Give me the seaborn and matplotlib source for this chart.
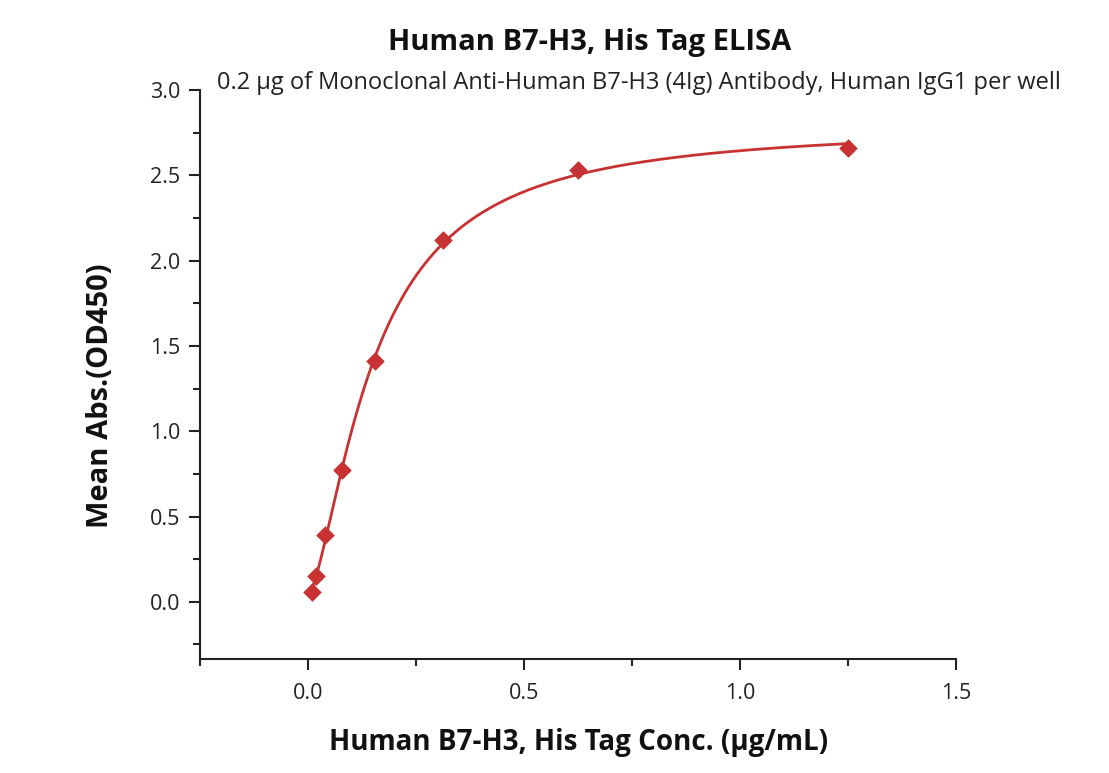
import numpy as np
import pandas as pd
import matplotlib
matplotlib.use("Agg")
import matplotlib.pyplot as plt
import seaborn as sns
from matplotlib.ticker import MultipleLocator

# Data
conc = [0.0098, 0.0195, 0.039, 0.078, 0.156, 0.3125, 0.625, 1.25]
od450 = [0.06, 0.15, 0.39, 0.77, 1.41, 2.12, 2.53, 2.66]
title = "Human B7-H3, His Tag ELISA"
subtitle = "0.2 μg of Monoclonal Anti-Human B7-H3 (4Ig) Antibody, Human IgG1 per well"
xlabel = "Human B7-H3, His Tag Conc. (μg/mL)"
ylabel = "Mean Abs.(OD450)"
xticks = [0.0, 0.5, 1.0, 1.5]
yticks = [0.0, 0.5, 1.0, 1.5, 2.0, 2.5, 3.0]

red = "#C83232"

# 4-parameter logistic fit (Levenberg-Marquardt in numpy)
x = np.array(conc)
y = np.array(od450)

def f4(p, xx):
    a, b, c, d = p
    return d + (a - d) / (1.0 + (xx / c) ** b)

p = np.array([0.0, 1.5, 0.15, 2.8])
lam = 1e-2
for _ in range(500):
    r = y - f4(p, x)
    J = np.zeros((len(x), 4))
    for k in range(4):
        dp = np.zeros(4); dp[k] = 1e-6 * max(abs(p[k]), 1e-3)
        J[:, k] = (f4(p + dp, x) - f4(p, x)) / dp[k]
    A = J.T @ J
    g = J.T @ r
    step = np.linalg.solve(A + lam * np.diag(np.diag(A)), g)
    pn = p + step
    if pn[2] > 0 and np.sum((y - f4(pn, x)) ** 2) < np.sum(r ** 2):
        p = pn; lam *= 0.5
    else:
        lam *= 4
xf = np.linspace(min(conc), max(conc), 400)
fit = pd.DataFrame({"x": xf, "y": f4(p, xf)})
pts = pd.DataFrame({"x": conc, "y": od450})

sns.set_style("white")
plt.rcParams["font.family"] = ["Open Sans", "DejaVu Sans"]

fig = plt.figure(figsize=(11.09, 7.73), dpi=100)
ax = fig.add_axes([0.1803, 0.1475, 0.862 - 0.1803, 0.8836 - 0.1475])

sns.lineplot(data=fit, x="x", y="y", ax=ax, color=red, lw=2)
sns.scatterplot(data=pts, x="x", y="y", ax=ax, marker="D", s=80, color=red,
                edgecolor=red, linewidth=0.5, zorder=5)

ax.set_xlim(-0.25, 1.5)
ax.set_ylim(-0.335, 3.0)
ax.set_xticks(xticks)
ax.set_yticks(yticks)
ax.xaxis.set_minor_locator(MultipleLocator(0.25))
ax.yaxis.set_minor_locator(MultipleLocator(0.25))
ax.tick_params(axis="both", which="major", direction="out", length=8, width=1.5,
               labelsize=15.5, color="#222222", labelcolor="#222222", pad=6, bottom=True, left=True)
ax.tick_params(axis="both", which="minor", direction="out", length=5, width=1.5,
               color="#222222", bottom=True, left=True)
ax.tick_params(axis="x", pad=9)
for s in ["top", "right"]:
    ax.spines[s].set_visible(False)
for s in ["left", "bottom"]:
    ax.spines[s].set_color("#222222")
    ax.spines[s].set_linewidth(1.5)

ax.set_xlabel(xlabel, fontsize=20, fontweight="bold", color="#111111")
ax.set_ylabel(ylabel, fontsize=21, fontweight="bold", color="#111111")
ax.xaxis.set_label_coords(0.501, -0.122)
ax.yaxis.set_label_coords(-0.112, 0.462)

fig.text(0.532, 0.945, title, ha="center", va="center", fontsize=21, fontweight="bold", color="#111111")
fig.text(0.576, 0.893, subtitle, ha="center", va="center", fontsize=17, color="#222222")

fig.savefig("out.png", dpi=100, facecolor="white")
